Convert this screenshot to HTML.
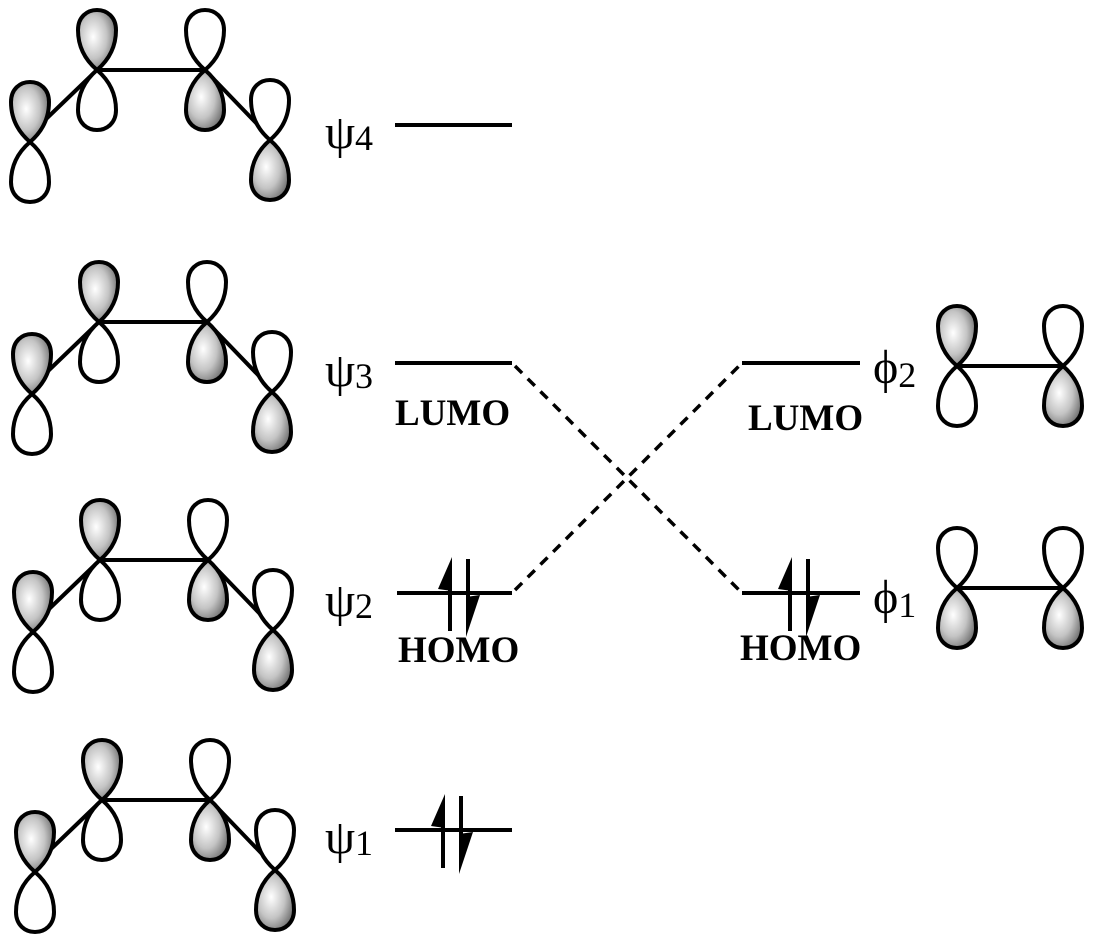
<!DOCTYPE html>
<html><head><meta charset="utf-8"><style>
html,body{margin:0;padding:0;background:#fff;}
svg{display:block;}
text{font-family:"Liberation Serif",serif;fill:#000;}
.lab{font-size:48px;}
.sub{font-size:36px;}
.mo{font-size:37px;font-weight:bold;}
</style></head><body>
<svg width="1094" height="947" viewBox="0 0 1094 947" xmlns="http://www.w3.org/2000/svg">
<defs>
<radialGradient id="g" cx="0.4" cy="0.45" r="0.65">
<stop offset="0" stop-color="#fff"/><stop offset="0.55" stop-color="#c4c4c4"/><stop offset="1" stop-color="#6a6a6a"/>
</radialGradient>
<path id="up" d="M0,0 C-14,-12 -19,-26 -19,-40 C-19,-53 -10,-60 0,-60 C10,-60 19,-53 19,-40 C19,-26 14,-12 0,0 Z"/>
<path id="dn" d="M0,0 C-14,12 -19,26 -19,40 C-19,53 -10,60 0,60 C10,60 19,53 19,40 C19,26 14,12 0,0 Z"/>
<g id="buta">
 <line x1="45" y1="120" x2="97" y2="70" stroke="#000" stroke-width="4"/>
 <line x1="97" y1="70" x2="205" y2="70" stroke="#000" stroke-width="4"/>
 <line x1="205" y1="70" x2="258" y2="125" stroke="#000" stroke-width="4"/>
 <g stroke="#000" stroke-width="4">
 <use href="#up" x="30" y="142" fill="url(#g)"/><use href="#dn" x="30" y="142" fill="#fff"/>
 <use href="#up" x="97" y="70" fill="url(#g)"/><use href="#dn" x="97" y="70" fill="#fff"/>
 <use href="#up" x="205" y="70" fill="#fff"/><use href="#dn" x="205" y="70" fill="url(#g)"/>
 <use href="#up" x="270" y="140" fill="#fff"/><use href="#dn" x="270" y="140" fill="url(#g)"/>
 </g>
</g>
<g id="pair">
 <line x1="0" y1="38" x2="0" y2="-25" stroke="#000" stroke-width="4"/>
 <polygon points="2,-36 2,-2 -12,-4" fill="#000"/>
 <line x1="18" y1="-34" x2="18" y2="30" stroke="#000" stroke-width="4"/>
 <polygon points="16,44 16,4 30,2" fill="#000"/>
</g>
</defs>
<use href="#buta" x="0" y="0"/>
<use href="#buta" x="2" y="252"/>
<use href="#buta" x="3" y="490"/>
<use href="#buta" x="5" y="730"/>

<g stroke="#000" stroke-width="4">
<line x1="395" y1="125" x2="512" y2="125"/>
<line x1="395" y1="363" x2="512" y2="363"/>
<line x1="397" y1="593" x2="512" y2="593"/>
<line x1="395" y1="830" x2="512" y2="830"/>
<line x1="742" y1="363" x2="860" y2="363"/>
<line x1="742" y1="593" x2="860" y2="593"/>
</g>
<g stroke="#000" stroke-width="3.5" stroke-dasharray="10,8">
<line x1="515" y1="366" x2="742" y2="593"/>
<line x1="515" y1="590" x2="742" y2="363"/>
</g>

<use href="#pair" x="450" y="593"/>
<use href="#pair" x="443" y="830"/>
<use href="#pair" x="790" y="593"/>

<text x="325" y="148" class="lab">ψ<tspan class="sub" dy="2">4</tspan></text>
<text x="325" y="386" class="lab">ψ<tspan class="sub" dy="2">3</tspan></text>
<text x="325" y="616" class="lab">ψ<tspan class="sub" dy="2">2</tspan></text>
<text x="325" y="853" class="lab">ψ<tspan class="sub" dy="2">1</tspan></text>
<text x="873" y="383" class="lab">ϕ<tspan class="sub" dy="4">2</tspan></text>
<text x="873" y="613" class="lab">ϕ<tspan class="sub" dy="4">1</tspan></text>

<text x="395" y="425" class="mo">LUMO</text>
<text x="748" y="430" class="mo">LUMO</text>
<text x="398" y="662" class="mo">HOMO</text>
<text x="740" y="660" class="mo">HOMO</text>

<g stroke="#000" stroke-width="4">
<line x1="957" y1="366" x2="1063" y2="366"/>
<use href="#up" x="957" y="366" fill="url(#g)"/><use href="#dn" x="957" y="366" fill="#fff"/>
<use href="#up" x="1063" y="366" fill="#fff"/><use href="#dn" x="1063" y="366" fill="url(#g)"/>
<line x1="957" y1="588" x2="1063" y2="588"/>
<use href="#up" x="957" y="588" fill="#fff"/><use href="#dn" x="957" y="588" fill="url(#g)"/>
<use href="#up" x="1063" y="588" fill="#fff"/><use href="#dn" x="1063" y="588" fill="url(#g)"/>
</g>
</svg>
</body></html>
